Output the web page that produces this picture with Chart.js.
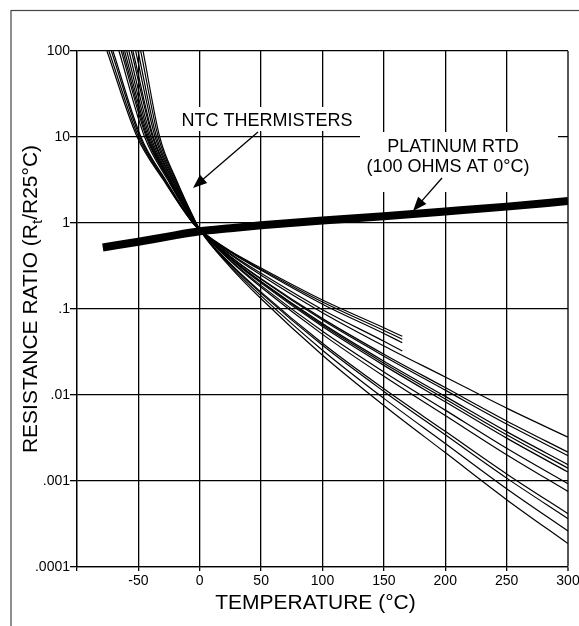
<!DOCTYPE html>
<html><head><meta charset="utf-8">
<script src="https://cdn.jsdelivr.net/npm/chart.js@4"></script>
<style>html,body{margin:0;padding:0;background:#fff}canvas{display:block}</style>
</head><body>
<canvas id="c" width="579" height="626"></canvas>
<script>
// ---- data ----
const xMin = -100, xMax = 300, xStep = 50;
const yTickValues = [100, 10, 1, 0.1, 0.01, 0.001, 0.0001];
const yTickLabels = ['100', '10', '1', '.1', '.01', '.001', '.0001'];

// NTC thermistor curves: temperatures where each curve crosses these ratio levels (left branch)
const ntcLeftValues = [100, 10, 3.16, 1];
const ntcLeftTemps = [
  [-75.6, -51.0, -29.6, -5.7],
  [-74.0, -49.9, -29.0, -5.5],
  [-72.0, -48.8, -28.3, -5.4],
  [-70.7, -47.9, -27.8, -5.2],
  [-65.8, -44.9, -26.0, -4.7],
  [-63.9, -43.6, -25.3, -4.6],
  [-62.6, -42.8, -24.8, -4.4],
  [-61.2, -41.9, -24.3, -4.3],
  [-59.5, -40.9, -23.8, -4.2],
  [-57.7, -39.8, -23.1, -4.0],
  [-55.7, -38.5, -22.3, -3.8],
  [-54.4, -37.8, -21.9, -3.7],
  [-52.2, -36.4, -21.1, -3.4],
  [-50.3, -35.2, -20.4, -3.3],
  [-48.1, -33.8, -19.6, -3.0],
  [-46.2, -32.6, -19.0, -2.9]
];
// common crossing point
const ntcMeetTemp = 0;
const ntcMeetValue = 0.835;
// right branch
const ntcRightTemps = [25, 50, 100, 150, 200, 250, 300];
const ntcShortTemps = [25, 50, 100, 150, 165];
const ntcRightValues = [
  [0.472, 0.299, 0.127, 0.0605, 0.0482],
  [0.465, 0.290, 0.1205, 0.0562, 0.0445],
  [0.456, 0.282, 0.1138, 0.0519, 0.0406],
  [0.438, 0.260, 0.0982, 0.0422, 0.0325],
  [0.430, 0.247, 0.0906, 0.0372, 0.0162, 0.00703, 0.00323],
  [0.409, 0.225, 0.0773, 0.0298, 0.0122, 0.00499, 0.00216],
  [0.405, 0.221, 0.0743, 0.0283, 0.0114, 0.00460, 0.00197],
  [0.393, 0.209, 0.0676, 0.0247, 0.00964, 0.00375, 0.00155],
  [0.389, 0.206, 0.0650, 0.0234, 0.00899, 0.00345, 0.00141],
  [0.384, 0.200, 0.0624, 0.0221, 0.00834, 0.00315, 0.00127],
  [0.370, 0.187, 0.0550, 0.0185, 0.00667, 0.00240, 0.000929],
  [0.361, 0.179, 0.0507, 0.0165, 0.00577, 0.00202, 0.000755],
  [0.336, 0.157, 0.0399, 0.0118, 0.00378, 0.00121, 0.000417],
  [0.330, 0.152, 0.0378, 0.0110, 0.00344, 0.00108, 0.000365],
  [0.318, 0.142, 0.0332, 0.00914, 0.00273, 0.000813, 0.000262],
  [0.305, 0.1315, 0.0290, 0.00755, 0.00214, 0.000607, 0.000187]
];
// Platinum RTD
const rtdTemps = [-79, -50, -25, 0, 25, 50, 100, 150, 200, 250, 300];
const rtdValues = [0.52, 0.605, 0.70, 0.80, 0.87, 0.94, 1.07, 1.2, 1.36, 1.55, 1.8];

const xTitle = 'TEMPERATURE (°C)';
const yTitleParts = ['RESISTANCE RATIO (R', 't', '/R25°C)'];
const ntcLabel = 'NTC THERMISTERS';
const rtdLabel = ['PLATINUM RTD', '(100 OHMS AT 0°C)'];

// ---- build ----
const FONT = '"Liberation Sans", Arial, Helvetica, sans-serif';
const datasets = [];
ntcLeftTemps.forEach((lt, i) => {
  const pts = lt.map((t, k) => ({ x: t, y: ntcLeftValues[k] }));
  pts.push({ x: ntcMeetTemp, y: ntcMeetValue });
  const rv = ntcRightValues[i];
  const rt = rv.length === ntcShortTemps.length ? ntcShortTemps : ntcRightTemps;
  rv.forEach((v, k) => pts.push({ x: rt[k], y: v }));
  datasets.push({ data: pts, borderColor: '#000', borderWidth: 1.2, pointRadius: 0,
    cubicInterpolationMode: 'monotone', fill: false });
});
datasets.push({ data: rtdTemps.map((t, k) => ({ x: t, y: rtdValues[k] })),
  borderColor: '#000', borderWidth: 8, pointRadius: 0, cubicInterpolationMode: 'monotone',
  borderCapStyle: 'butt', fill: false });

function arrow(ctx, x1, y1, x2, y2, head, w) {
  const a = Math.atan2(y2 - y1, x2 - x1);
  const c = Math.cos(a), s = Math.sin(a);
  ctx.beginPath(); ctx.moveTo(x1, y1); ctx.lineTo(x2 - c * head * 0.7, y2 - s * head * 0.7); ctx.stroke();
  ctx.beginPath(); ctx.moveTo(x2, y2);
  ctx.lineTo(x2 - head * c + w * s, y2 - head * s - w * c);
  ctx.lineTo(x2 - head * c - w * s, y2 - head * s + w * c);
  ctx.closePath(); ctx.fill();
}

const annot = {
  id: 'annot',
  beforeDatasetsDraw(chart) {
    const ctx = chart.ctx;
    ctx.save(); ctx.fillStyle = '#fff';
    ctx.fillRect(175, 107, 184, 24);
    ctx.fillRect(360, 132, 198, 60);
    ctx.restore();
  },
  afterDraw(chart) {
    const ctx = chart.ctx;
    ctx.save();
    ctx.fillStyle = '#000'; ctx.strokeStyle = '#000';
    ctx.font = '18px ' + FONT; ctx.textAlign = 'center'; ctx.textBaseline = 'alphabetic';
    ctx.fillText(ntcLabel, 267, 126);
    ctx.fillText(rtdLabel[0], 453, 152);
    ctx.fillText(rtdLabel[1], 448, 172);
    ctx.lineWidth = 1.3;
    arrow(ctx, 258, 132, 193, 188, 14, 5.5);
    arrow(ctx, 442, 178, 413, 211, 14, 5.5);
    // x title
    ctx.font = '21px ' + FONT;
    ctx.fillText(xTitle, 315.5, 609);
    // y title with subscript
    ctx.translate(37, 299); ctx.rotate(-Math.PI / 2);
    const f1 = '21px ' + FONT, f2 = '15px ' + FONT;
    ctx.textAlign = 'left';
    ctx.font = f1; const w1 = ctx.measureText(yTitleParts[0]).width, w3 = ctx.measureText(yTitleParts[2]).width;
    ctx.font = f2; const w2 = ctx.measureText(yTitleParts[1]).width;
    let x = -(w1 + w2 + w3) / 2;
    ctx.font = f1; ctx.fillText(yTitleParts[0], x, 0); x += w1;
    ctx.font = f2; ctx.fillText(yTitleParts[1], x, 5); x += w2;
    ctx.font = f1; ctx.fillText(yTitleParts[2], x, 0);
    ctx.restore();
    // outer frame
    ctx.save(); ctx.strokeStyle = '#444'; ctx.lineWidth = 1.2;
    ctx.strokeRect(11, 10.5, 800, 800);
    ctx.restore();
  }
};

new Chart(document.getElementById('c'), {
  type: 'line',
  data: { datasets },
  plugins: [annot],
  options: {
    responsive: false, animation: false, devicePixelRatio: 1,
    layout: { padding: { left: 0, top: 51, right: 11, bottom: 0 } },
    plugins: { legend: { display: false }, tooltip: { enabled: false } },
    elements: { line: { tension: 0 } },
    scales: {
      x: {
        type: 'linear', min: xMin, max: xMax,
        ticks: { stepSize: xStep, color: '#000', font: { family: FONT, size: 14 }, padding: 2,
          maxRotation: 0, autoSkip: false,
          callback: v => (v === xMin ? '' : String(v)) },
        grid: { color: c => (c.tick && c.tick.value === xMax ? '#555' : '#000'),
          lineWidth: c => (c.tick && c.tick.value === xMax ? 2 : 1.3), tickLength: 4 },
        border: { color: '#000', width: 1.3 },
        afterFit: s => { s.height = 59; s.paddingLeft = 0; s.paddingRight = 0; }
      },
      y: {
        type: 'logarithmic', min: 0.0001, max: 100,
        afterBuildTicks: s => { s.ticks = yTickValues.map(v => ({ value: v })); },
        ticks: { color: '#000', font: { family: FONT, size: 14 }, padding: 0, autoSkip: false,
          callback: v => { const i = yTickValues.findIndex(t => Math.abs(t - v) / t < 1e-6); return i >= 0 ? yTickLabels[i] : ''; } },
        grid: { color: '#000', lineWidth: 1.3, tickLength: 7 },
        border: { color: '#000', width: 1.3 },
        afterFit: s => { s.width = 77; s.paddingTop = 0; s.paddingBottom = 0; }
      }
    }
  }
});
</script>
</body></html>
